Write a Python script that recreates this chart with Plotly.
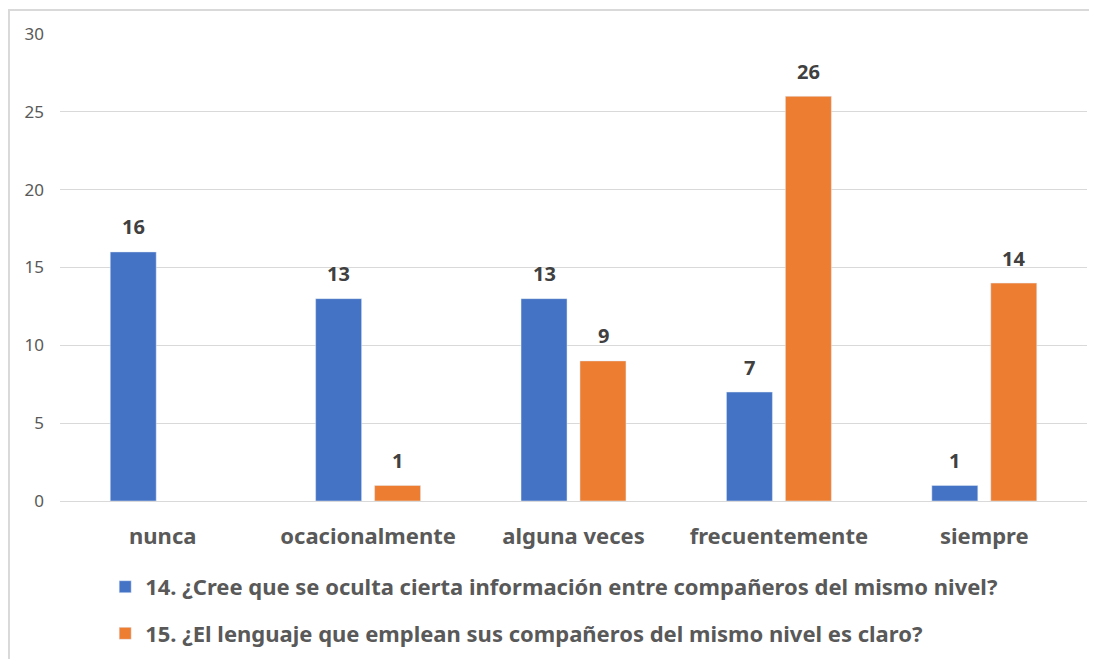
import plotly.graph_objects as go

categorias = ["nunca", "ocacionalmente", "alguna veces", "frecuentemente", "siempre"]
serie_14 = [16, 13, 13, 7, 1]
serie_15 = [None, 1, 9, 26, 14]
nombre_14 = "14. ¿Cree que se oculta cierta información entre compañeros del mismo nivel?"
nombre_15 = "15. ¿El lenguaje que emplean sus compañeros del mismo nivel es claro?"

AZUL = "#4472C4"
NARANJA = "#ED7D31"
GRIS = "#595959"
FUENTE = "Noto Sans"

fig = go.Figure()
fig.add_trace(go.Bar(x=categorias, y=serie_14, name=nombre_14, marker_color=AZUL,
                     legendgroup="a", hoverinfo="skip"))
fig.add_trace(go.Bar(x=categorias, y=serie_15, name=nombre_15, marker_color=NARANJA,
                     legendgroup="b", hoverinfo="skip"))

# etiquetas de datos sobre cada barra
for serie, desplaz in [(serie_14, -29.5), (serie_15, 29.5)]:
    for cat, val in zip(categorias, serie):
        if val is None:
            continue
        fig.add_annotation(x=cat, y=val, text=str(val), showarrow=False,
                           xshift=desplaz, yshift=25,
                           font=dict(family=FUENTE, size=20, color="#404040", weight="bold"))

# la página tiene un margen de 8 px; el lienzo es más alto para que la leyenda
# no empuje el margen inferior (lo que sobra queda fuera de la ventana)
fig.update_layout(
    width=1089, height=720,
    margin=dict(l=52, r=10, t=26, b=227),
    paper_bgcolor="white", plot_bgcolor="white",
    barmode="group", bargap=0.426, bargroupgap=0.22,
    font=dict(family=FUENTE, color=GRIS),
    showlegend=True,
    legend=dict(x=0.044, y=-0.139, xanchor="left", yanchor="top",
                orientation="v", traceorder="grouped", tracegroupgap=15,
                font=dict(family=FUENTE, size=22, color=GRIS, weight="bold")),
    shapes=[dict(type="rect", xref="paper", yref="paper",
                 x0=-0.0497, x1=1.03, y0=-0.6, y1=1.0514,
                 line=dict(color="#D9D9D9", width=2), layer="below")],
)
fig.update_yaxes(range=[0, 30], dtick=5, showgrid=True, gridcolor="#D9D9D9", gridwidth=1,
                 zeroline=False, showline=False, ticks="", ticklabelstandoff=15,
                 tickfont=dict(family=FUENTE, size=17, color=GRIS))
fig.update_xaxes(showline=True, linecolor="#D9D9D9", linewidth=1, ticks="",
                 ticklabelstandoff=16,
                 tickfont=dict(family=FUENTE, size=22, color=GRIS, weight="bold"))

fig.write_html("out.html")
